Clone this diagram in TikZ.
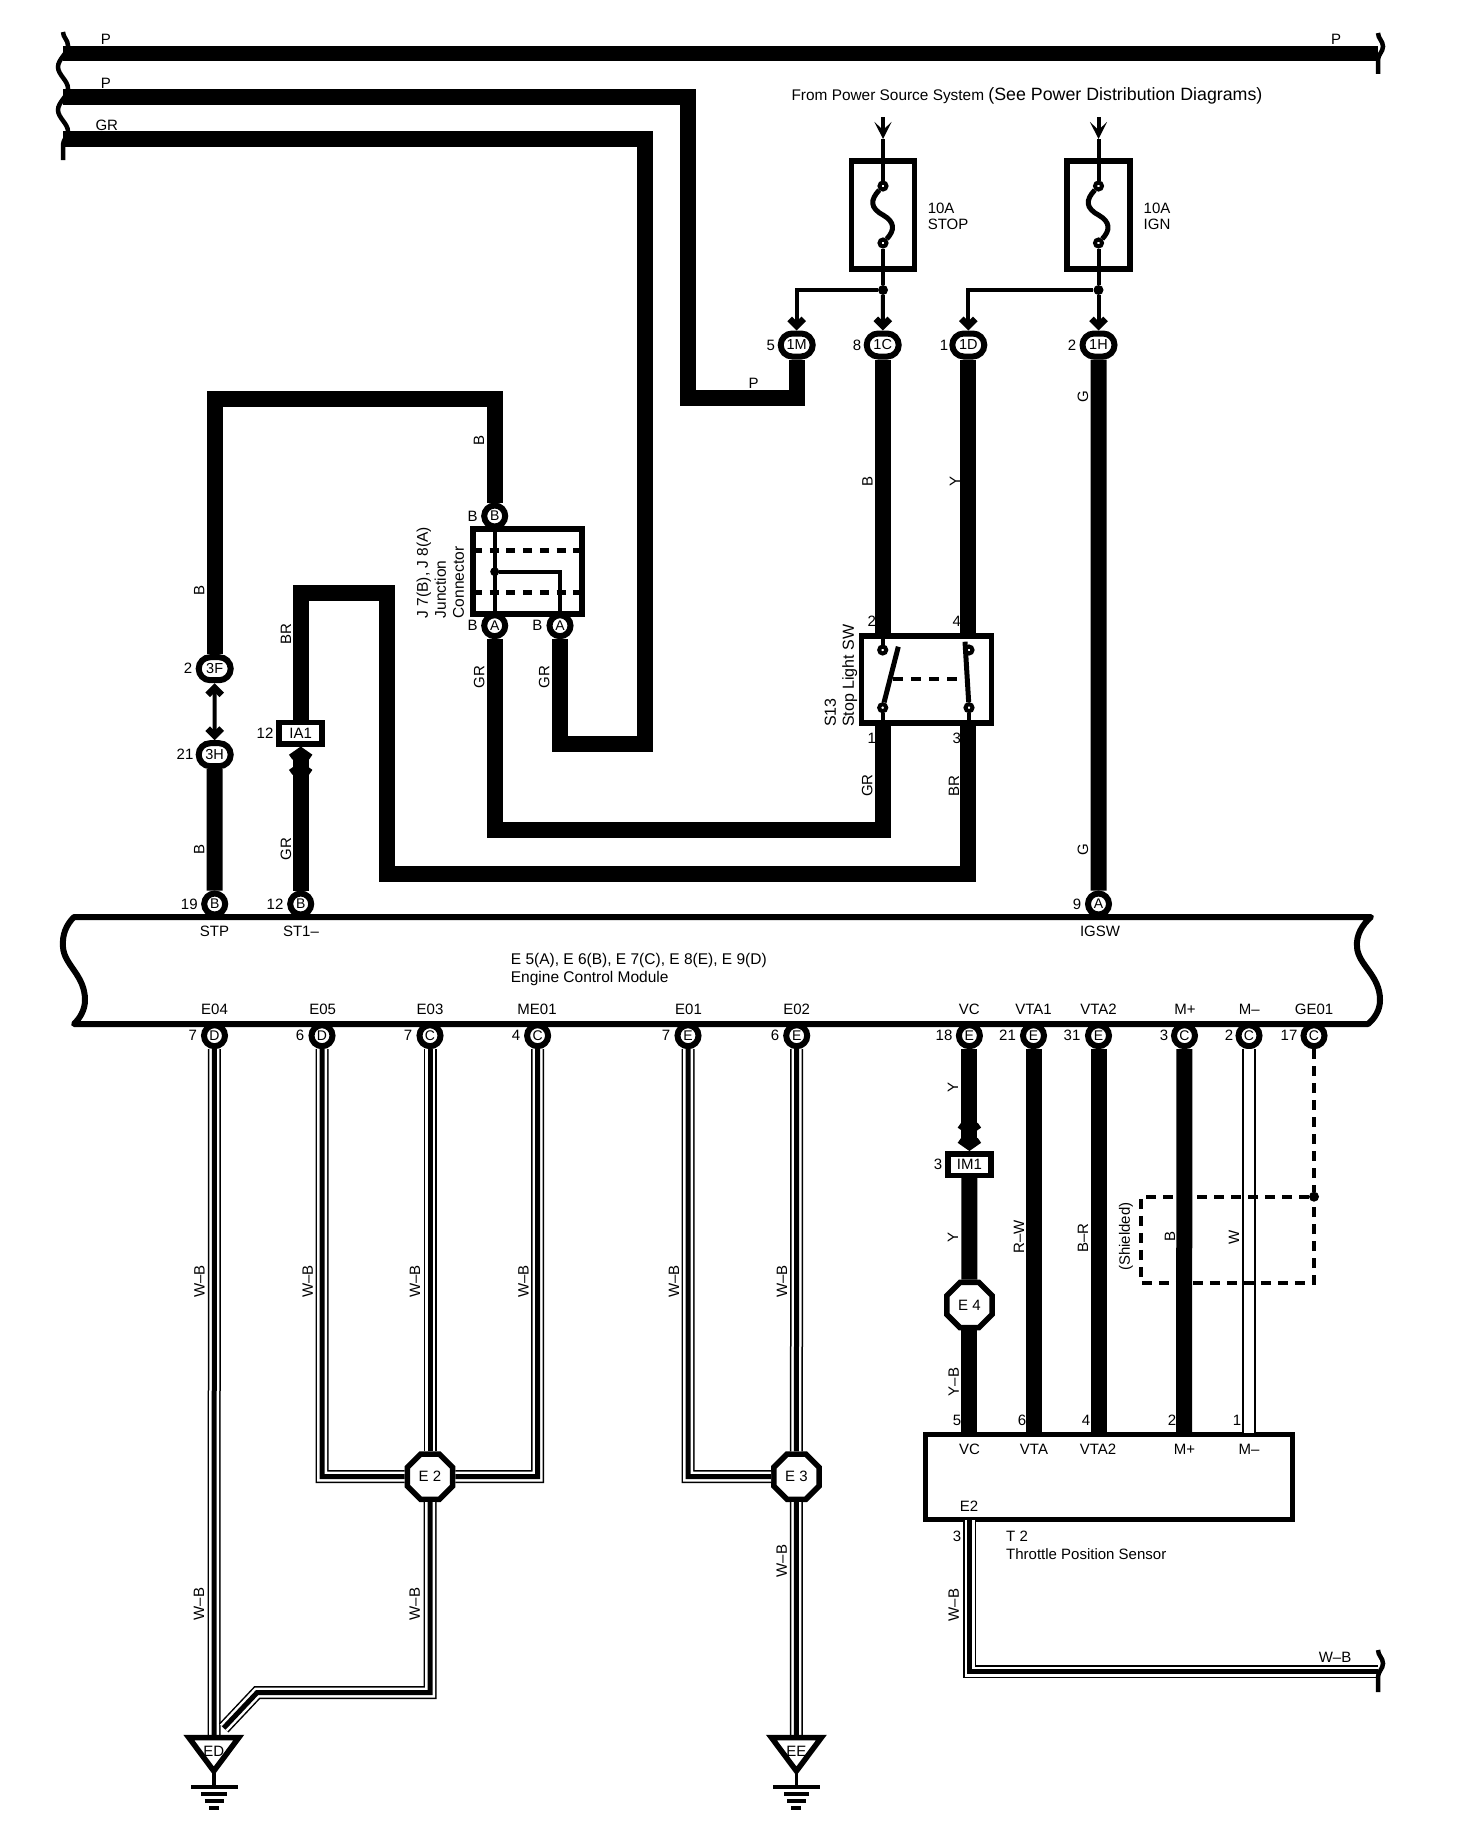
\documentclass[tikz,border=0pt]{standalone}
\usepackage{fontspec}
\setmainfont{Liberation Sans}
\usepackage{tikz}
\usetikzlibrary{shapes}
\usetikzlibrary{arrows.meta}
\usetikzlibrary{decorations.pathmorphing}
\tikzstyle{Txt}=[inner sep=0pt,font=\fontsize{15}{17}\selectfont]
\tikzstyle{TxtR}=[Txt,rotate=90]
\tikzstyle{Pin}=[circle,draw,fill=white,line width=6pt,inner sep=0pt,minimum size=21pt,
font=\fontsize{14}{17}\selectfont]
\tikzstyle{PinWide}=[rounded rectangle,draw,fill=white,line width=6pt,inner sep=0pt,
minimum width=32pt,minimum height=23pt,font=\fontsize{14.5}{17}\selectfont]
\tikzstyle{Tag}=[rectangle,draw,fill=white,line width=5.5pt,inner sep=0pt,minimum height=21.5pt,
font=\fontsize{15}{17}\selectfont]
\tikzstyle{Joint}=[regular polygon,regular polygon sides=8,draw,fill=white,line width=5.5pt,
inner sep=0pt,minimum size=49pt,font=\fontsize{15}{17}\selectfont]
\tikzstyle{Box}=[rectangle,draw,line width=5.5pt,inner sep=0pt]
\tikzstyle{Contact}=[circle,draw,fill=white,line width=4pt,inner sep=0pt,minimum size=7pt]
\tikzstyle{Dot}=[circle,fill=black,inner sep=0pt,minimum size=10pt]
\tikzstyle{Wire}=[draw,line width=16pt]
\tikzstyle{WireWB}=[preaction={draw,line width=13pt},preaction={draw,white,line width=10pt},
draw,line width=5pt]
\tikzstyle{WireW}=[preaction={draw,line width=14pt},draw,white,line width=10pt]
\tikzstyle{Feed}=[draw,line width=4pt]
\tikzstyle{Blade}=[draw,line width=5pt]
\tikzstyle{Shield}=[draw,line width=4pt,dash pattern=on 10pt off 7pt]
\tikzstyle{DashJ}=[draw,line width=5pt,dash pattern=on 9pt off 7.7pt]
\tikzstyle{Module}=[draw,line width=6pt,line join=round]
\tikzstyle{Break}=[draw,line width=4.5pt,decorate,decoration={snake,segment length=43pt,amplitude=5pt}]
\tikzstyle{Gnd}=[draw,line width=3.5pt]
\tikzstyle{Chev}=[-{Straight Barb[length=7pt,width=14pt,line width=6.5pt]}]
\tikzstyle{ChevBoth}=[{Straight Barb[length=7pt,width=14pt,line width=6.5pt]}-{Straight Barb[length=7pt,width=14pt,line width=6.5pt]}]
\tikzstyle{ChevTwo}=[-{Straight Barb[length=7pt,width=20pt,line width=6pt,sep=1.5pt]Straight Barb[length=7pt,width=20pt,line width=6pt]}]
\tikzstyle{Barb}=[-{Stealth[length=17pt,width=17pt,inset=8pt]}]
\begin{document}
\begin{tikzpicture}[x=1pt,y=-1pt]
        \useasboundingbox(0,0)rectangle(1456,1828);
        \node[Txt](tP1)at(106,39){P};
        \node[Txt](tP2)at(1336,39){P};
        \node[Txt](tP3)at(106,83){P};
        \node[Txt](tGR1)at(106.8,125){GR};
        \node[Txt,font=\fontsize{15.4}{18}\selectfont](tFrom)at(1027,95.5){From Power Source System {\fontsize{17.8}{20}\selectfont (See Power Distribution Diagrams)}};
        \node[Txt,anchor=north west,align=left,font=\fontsize{15}{16}\selectfont](tStop)at(927.6,202.5){10A\\STOP};
        \node[Txt,anchor=north west,align=left,font=\fontsize{15}{16}\selectfont](tIgn)at(1143.5,202.5){10A\\IGN};
        \node[Txt](tP4)at(753.5,383){P};
        \node[TxtR](tG1)at(1083,396.7){G};
        \node[TxtR](tB1)at(479,440){B};
        \node[TxtR](tB2)at(867.5,481.6){B};
        \node[TxtR](tY1)at(955,481.6){Y};
        \node[TxtR](tB3)at(199.3,590.7){B};
        \node[TxtR](tBR1)at(286,634){BR};
        \node[TxtR](tGR2)at(479.3,677.3){GR};
        \node[TxtR](tGR3)at(544.3,677.3){GR};
        \node[TxtR](tGR4)at(867.3,785.7){GR};
        \node[TxtR](tBR2)at(954,785.7){BR};
        \node[TxtR](tG2)at(1083,850){G};
        \node[TxtR](tGR5)at(286,849.3){GR};
        \node[TxtR](tB4)at(199.3,849.3){B};
        \node[TxtR,anchor=north west,align=left,font=\fontsize{15.5}{18}\selectfont](tJunc)at(416.5,618.5){J 7(B), J 8(A)\\Junction\\Connector};
        \node[TxtR,anchor=north west,align=left,font=\fontsize{16}{18}\selectfont](tStopSw)at(824.5,727){S13\\Stop Light SW};
        \node[Txt](n5)at(770.7,345){5};
        \node[Txt](n8)at(857,345){8};
        \node[Txt](n1)at(944,345){1};
        \node[Txt](n2)at(1072,345){2};
        \node[Txt](nB1)at(472.7,516){B};
        \node[Txt](nB2)at(472.7,625.7){B};
        \node[Txt](nB3)at(537.3,625.7){B};
        \node[Txt](n2a)at(188,668.7){2};
        \node[Txt](n21)at(185,754.7){21};
        \node[Txt](n12a)at(265,733){12};
        \node[Txt](n19)at(189.3,904){19};
        \node[Txt](n12b)at(275,904){12};
        \node[Txt](n9)at(1077,904){9};
        \node[Txt](nSw2)at(871.7,621.7){2};
        \node[Txt](nSw4)at(956.7,621.7){4};
        \node[Txt](nSw1)at(871.7,738.3){1};
        \node[Txt](nSw3)at(956.7,738.3){3};
        \node[Txt](tSTP)at(214.5,931.7){STP};
        \node[Txt](tST1)at(301,931.7){ST1–};
        \node[Txt](tIGSW)at(1100,931.7){IGSW};
        \node[Txt,anchor=north west,align=left,font=\fontsize{15.5}{18}\selectfont](tECM)at(510.7,953){E 5(A), E 6(B), E 7(C), E 8(E), E 9(D)\\Engine Control Module};
        \node[Txt](tE04)at(214.5,1009){E04};
        \node[Txt](tE05)at(322.7,1009){E05};
        \node[Txt](tE03)at(430,1009){E03};
        \node[Txt](tME01)at(537,1009){ME01};
        \node[Txt](tE01)at(688.5,1009){E01};
        \node[Txt](tE02)at(796.7,1009){E02};
        \node[Txt](tVC)at(969.4,1009){VC};
        \node[Txt](tVTA1)at(1033.5,1009){VTA1};
        \node[Txt](tVTA2)at(1098.5,1009){VTA2};
        \node[Txt](tMp)at(1185,1009){M+};
        \node[Txt](tMm)at(1249.4,1009){M–};
        \node[Txt](tGE01)at(1314,1009){GE01};
        \node[Txt](n7a)at(192.7,1035.7){7};
        \node[Txt](n6a)at(300,1035.7){6};
        \node[Txt](n7b)at(408,1035.7){7};
        \node[Txt](n4a)at(516,1035.7){4};
        \node[Txt](n7c)at(666,1035.7){7};
        \node[Txt](n6b)at(775,1035.7){6};
        \node[Txt](n18)at(944,1035.7){18};
        \node[Txt](n21b)at(1007.5,1035.7){21};
        \node[Txt](n31)at(1072,1035.7){31};
        \node[Txt](n3a)at(1164,1035.7){3};
        \node[Txt](n2b)at(1229,1035.7){2};
        \node[Txt](n17)at(1289,1035.7){17};
        \node[Txt](n3b)at(938,1164.5){3};
        \node[TxtR](tY2)at(953,1087){Y};
        \node[TxtR](tY3)at(953,1237.7){Y};
        \node[TxtR](tYB)at(953.7,1382){Y–B};
        \node[TxtR](tRW)at(1019,1236.7){R–W};
        \node[TxtR](tBR)at(1083,1238){B–R};
        \node[TxtR](tShield)at(1126,1236.7){(Shielded)};
        \node[TxtR](tB5)at(1170,1236.7){B};
        \node[TxtR](tW)at(1234,1237.7){W};
        \node[TxtR](tWB1)at(199.4,1281.7){W–B};
        \node[TxtR](tWB2)at(307.8,1281.7){W–B};
        \node[TxtR](tWB3)at(415,1281.7){W–B};
        \node[TxtR](tWB4)at(523.5,1281.7){W–B};
        \node[TxtR](tWB5)at(674,1281.7){W–B};
        \node[TxtR](tWB6)at(782,1281.7){W–B};
        \node[TxtR](tWB7)at(199,1604){W–B};
        \node[TxtR](tWB8)at(414.7,1604){W–B};
        \node[TxtR](tWB9)at(781.7,1561){W–B};
        \node[TxtR](tWB10)at(953.7,1605){W–B};
        \node[Txt](tWB11)at(1335,1657){W–B};
        \node[Txt](n5b)at(957,1420){5};
        \node[Txt](n6c)at(1022,1420){6};
        \node[Txt](n4b)at(1086,1420){4};
        \node[Txt](n2c)at(1172,1420){2};
        \node[Txt](n1b)at(1237,1420){1};
        \node[Txt](n3c)at(957,1536.7){3};
        \node[Txt,anchor=north west,align=left,font=\fontsize{15}{18}\selectfont](tTPS)at(1006,1530.5){T 2\\Throttle Position Sensor};
        \node[PinWide](1M)at(796.7,345){1M};
        \node[PinWide](1C)at(882.7,345){1C};
        \node[PinWide](1D)at(968.3,345){1D};
        \node[PinWide](1H)at(1098.5,345){1H};
        \node[PinWide](3F)at(214.7,668.7){3F};
        \node[PinWide](3H)at(214.7,754.7){3H};
        \node[Pin](JB)at(494.7,516){B};
        \node[Pin](JA1)at(494.7,625.7){A};
        \node[Pin](JA2)at(560,625.7){A};
        \node[Pin](STP)at(214.7,904){B};
        \node[Pin](ST1)at(300.7,904){B};
        \node[Pin](IGSW)at(1098.5,904){A};
        \node[Pin](E04)at(214.5,1035.7){D};
        \node[Pin](E05)at(322,1035.7){D};
        \node[Pin](E03)at(430,1035.7){C};
        \node[Pin](ME01)at(537.6,1035.7){C};
        \node[Pin](E01)at(688,1035.7){E};
        \node[Pin](E02)at(796.7,1035.7){E};
        \node[Pin](VC)at(969.4,1035.7){E};
        \node[Pin](VTA1)at(1033.5,1035.7){E};
        \node[Pin](VTA2)at(1098.5,1035.7){E};
        \node[Pin](Mp)at(1184.5,1035.7){C};
        \node[Pin](Mm)at(1249,1035.7){C};
        \node[Pin](GE01)at(1314,1035.7){C};
        \node[Tag,minimum width=43pt](IA1)at(300.7,733){IA1};
        \node[Tag,minimum width=43pt](IM1)at(969.4,1164.5){IM1};
        \node[Joint](E4)at(969.4,1305){E 4};
        \node[Joint](E2)at(430,1476.7){E 2};
        \node[Joint](E3)at(796.4,1476.7){E 3};
        \node[Box,minimum width=63pt,minimum height=108pt](FuseA)at(883,215){};
        \node[Box,minimum width=63pt,minimum height=108pt](FuseB)at(1098.5,215){};
        \node[Box,minimum width=109pt,minimum height=85pt](JConn)at(527.4,571.4){};
        \node[Box,minimum width=130pt,minimum height=87pt](SwBox)at(926.3,679.5){};
        \node[Box,minimum width=367pt,minimum height=85pt](T2)at(1109.2,1477){};
        \node[Contact](FuA1)at(883,186){};
        \node[Contact](FuA2)at(883,243){};
        \node[Contact](FuB1)at(1098.5,186){};
        \node[Contact](FuB2)at(1098.5,243){};
        \node[Contact](Sw1)at(882.7,650){};
        \node[Contact](Sw2)at(882.7,707.7){};
        \node[Contact](Sw3)at(969,650){};
        \node[Contact](Sw4)at(969,707.7){};
        \node[Dot](DotA)at(883,290){};
        \node[Dot](DotB)at(1098.5,290){};
        \node[Dot,minimum size=9pt](DotJ)at(494.7,571.7){};
        \node[Dot](DotS)at(1314,1196.7){};
        \node[Txt](tVC2)at(969.6,1449){VC};
        \node[Txt](tVTA)at(1034,1449){VTA};
        \node[Txt](tVTA3)at(1098,1449){VTA2};
        \node[Txt](tMp2)at(1184.5,1449){M+};
        \node[Txt](tMm2)at(1249,1449){M–};
        \node[Txt](tE2)at(969,1506){E2};
        \node[Txt](tED)at(213.8,1751){ED};
        \node[Txt](tEE)at(796.4,1751){EE};
        \coordinate(BrkA1)at(63,32);
        \coordinate(BrkA2)at(63,160);
        \coordinate(BrkB1)at(1378,33);
        \coordinate(BrkB2)at(1378,74);
        \coordinate(BrkC1)at(1378,1650);
        \coordinate(BrkC2)at(1378,1692);
        \coordinate(PTopA)at(63,53.3);
        \coordinate(PTopB)at(1378,53.3);
        \coordinate(PA)at(63,96.7);
        \coordinate(PB)at(688,96.7);
        \coordinate(PC)at(688,398);
        \coordinate(PD)at(796.7,398);
        \coordinate(GA)at(63,139.3);
        \coordinate(GB)at(645,139.3);
        \coordinate(GC)at(645,744.3);
        \coordinate(GD)at(560,744.3);
        \coordinate(BA)at(214.7,398.7);
        \coordinate(BB)at(494.7,398.7);
        \coordinate(SA)at(300.7,593);
        \coordinate(SB)at(387,593);
        \coordinate(SC)at(387,874);
        \coordinate(SD)at(968.3,874);
        \coordinate(SE)at(968.3,724);
        \coordinate(RA)at(494.7,830);
        \coordinate(RB)at(882.7,830);
        \coordinate(RC)at(882.7,724);
        \coordinate(TopC)at(882.7,635);
        \coordinate(TopD)at(968.3,635);
        \coordinate(InA)at(883,117);
        \coordinate(TipA)at(883,139);
        \coordinate(InB)at(1098.5,117);
        \coordinate(TipB)at(1098.5,139);
        \coordinate(VA)at(969.4,1433);
        \coordinate(VB)at(1033.5,1433);
        \coordinate(VC2)at(1098.5,1433);
        \coordinate(VD)at(1184,1435);
        \coordinate(VE)at(1249,1433);
        \coordinate(W1)at(214,1738);
        \coordinate(W2)at(322,1476.7);
        \coordinate(W3)at(537.6,1476.7);
        \coordinate(W4)at(688,1476.7);
        \coordinate(W5)at(430,1692.7);
        \coordinate(W6)at(257,1692.7);
        \coordinate(W7)at(223.7,1728);
        \coordinate(W8)at(796.4,1738);
        \coordinate(T2A)at(969.6,1520);
        \coordinate(T2B)at(969.6,1671.7);
        \coordinate(T2C)at(1378,1671.7);
        \coordinate(ShA)at(1141,1196.7);
        \coordinate(ShB)at(1141,1283);
        \coordinate(ShC)at(1314,1283);
        \coordinate(TriA)at(188.8,1737.5);
        \coordinate(TriB)at(238.8,1737.5);
        \coordinate(TriC)at(213.8,1771);
        \coordinate(GndA)at(213.8,1787);
        \coordinate(TriD)at(771.4,1737.5);
        \coordinate(TriE)at(821.4,1737.5);
        \coordinate(TriF)at(796.4,1771);
        \coordinate(GndB)at(796.4,1787);
        \draw[Module](74,917)--(1371,917)
            ..controls(1362,925)and(1356,935)..(1357,947)
            ..controls(1358,965)and(1380,975)..(1380,1000)
            ..controls(1380,1010)and(1375,1018)..(1368,1024)
            --(74,1024)
            ..controls(80,1018)and(85,1010)..(85,1000)
            ..controls(85,975)and(64,965)..(63,947)
            ..controls(62,935)and(66,925)..cycle;
        \draw[Wire,line width=15pt](PTopA)--(PTopB);
        \draw[Wire](PA)--(PB)--(PC)--(PD)--(1M);
        \draw[Wire](GA)--(GB)--(GC)--(GD)--(JA2);
        \draw[Wire](3F)--(BA)--(BB)--(JB);
        \draw[Wire](3H)--(STP);
        \draw[Wire](1C)--(TopC);
        \draw[Wire](1D)--(TopD);
        \draw[Wire](1H)--(IGSW);
        \draw[Wire](JA1)--(RA)--(RB)--(RC);
        \draw[Wire](IA1)--(SA)--(SB)--(SC)--(SD)--(SE);
        \draw[Wire,ChevTwo](ST1)--(IA1);
        \draw[Wire,ChevTwo](VC)--(IM1);
        \draw[Wire](IM1)--(E4);
        \draw[Wire](E4)--(VA);
        \draw[Wire](VTA1)--(VB);
        \draw[Wire](VTA2)--(VC2);
        \draw[Wire](Mp)--(VD);
        \draw[WireW](Mm)--(VE);
        \draw[WireWB](E04)--(W1);
        \draw[WireWB](E05)--(W2)--(E2);
        \draw[WireWB](E03)--(E2);
        \draw[WireWB](ME01)--(W3)--(E2);
        \draw[WireWB](E2)--(W5)--(W6)--(W7);
        \draw[WireWB](E01)--(W4)--(E3);
        \draw[WireWB](E02)--(E3);
        \draw[WireWB](E3)--(W8);
        \draw[WireWB](T2A)--(T2B)--(T2C);
        \draw[Feed,ChevBoth](3F)--(3H);
        \draw[Feed,Barb](InA)--(TipA);
        \draw[Feed](TipA)--(FuA1);
        \draw[Feed](FuA2)--(DotA);
        \draw[Feed,Chev](DotA)--(1C);
        \draw[Feed,Chev](DotA)-|(1M);
        \draw[Feed,Barb](InB)--(TipB);
        \draw[Feed](TipB)--(FuB1);
        \draw[Feed](FuB2)--(DotB);
        \draw[Feed,Chev](DotB)--(1H);
        \draw[Feed,Chev](DotB)-|(1D);
        \draw[Blade](FuA1)..controls(870,200)and(870,208)..(883,215)
            ..controls(895,222)and(895,230)..(FuA2);
        \draw[Blade](FuB1)..controls(1085.5,200)and(1085.5,208)..(1098.5,215)
            ..controls(1110.5,222)and(1110.5,230)..(FuB2);
        \draw[DashJ](473,550)--(582,550);
        \draw[DashJ](473,592.7)--(582,592.7);
        \draw[Feed](JB)--(JA1);
        \draw[Feed](DotJ)-|(JA2);
        \draw[Blade](Sw2)--(898.3,646.7);
        \draw[Blade](965,641.7)--(Sw4);
        \draw[Feed](882.7,635)--(Sw1);
        \draw[Feed](882.7,722)--(Sw2);
        \draw[Feed](969,722)--(Sw4);
        \draw[Feed,dash pattern=on 10pt off 8pt](893,679)--(965,679);
        \draw[Shield](GE01)--(DotS);
        \draw[Shield](DotS)--(ShA)--(ShB)--(ShC)--(DotS);
        \draw[Break](BrkA1)--(BrkA2);
        \draw[Break](BrkB1)--(BrkB2);
        \draw[Break](BrkC1)--(BrkC2);
        \draw[Blade,line width=5.5pt](TriA)--(TriB)--(TriC)--cycle;
        \draw[Blade,line width=5.5pt](TriD)--(TriE)--(TriF)--cycle;
        \draw[Gnd](TriC)--(GndA);
        \draw[Gnd](191,1787)--(238,1787);
        \draw[Gnd](201,1794)--(227,1794);
        \draw[Gnd](204.5,1801)--(223.5,1801);
        \draw[Gnd](209,1808)--(219,1808);
        \draw[Gnd](TriF)--(GndB);
        \draw[Gnd](773,1787)--(820,1787);
        \draw[Gnd](784,1794)--(809,1794);
        \draw[Gnd](787,1801)--(806,1801);
        \draw[Gnd](791,1808)--(801,1808);
    \end{tikzpicture}
\end{document}
